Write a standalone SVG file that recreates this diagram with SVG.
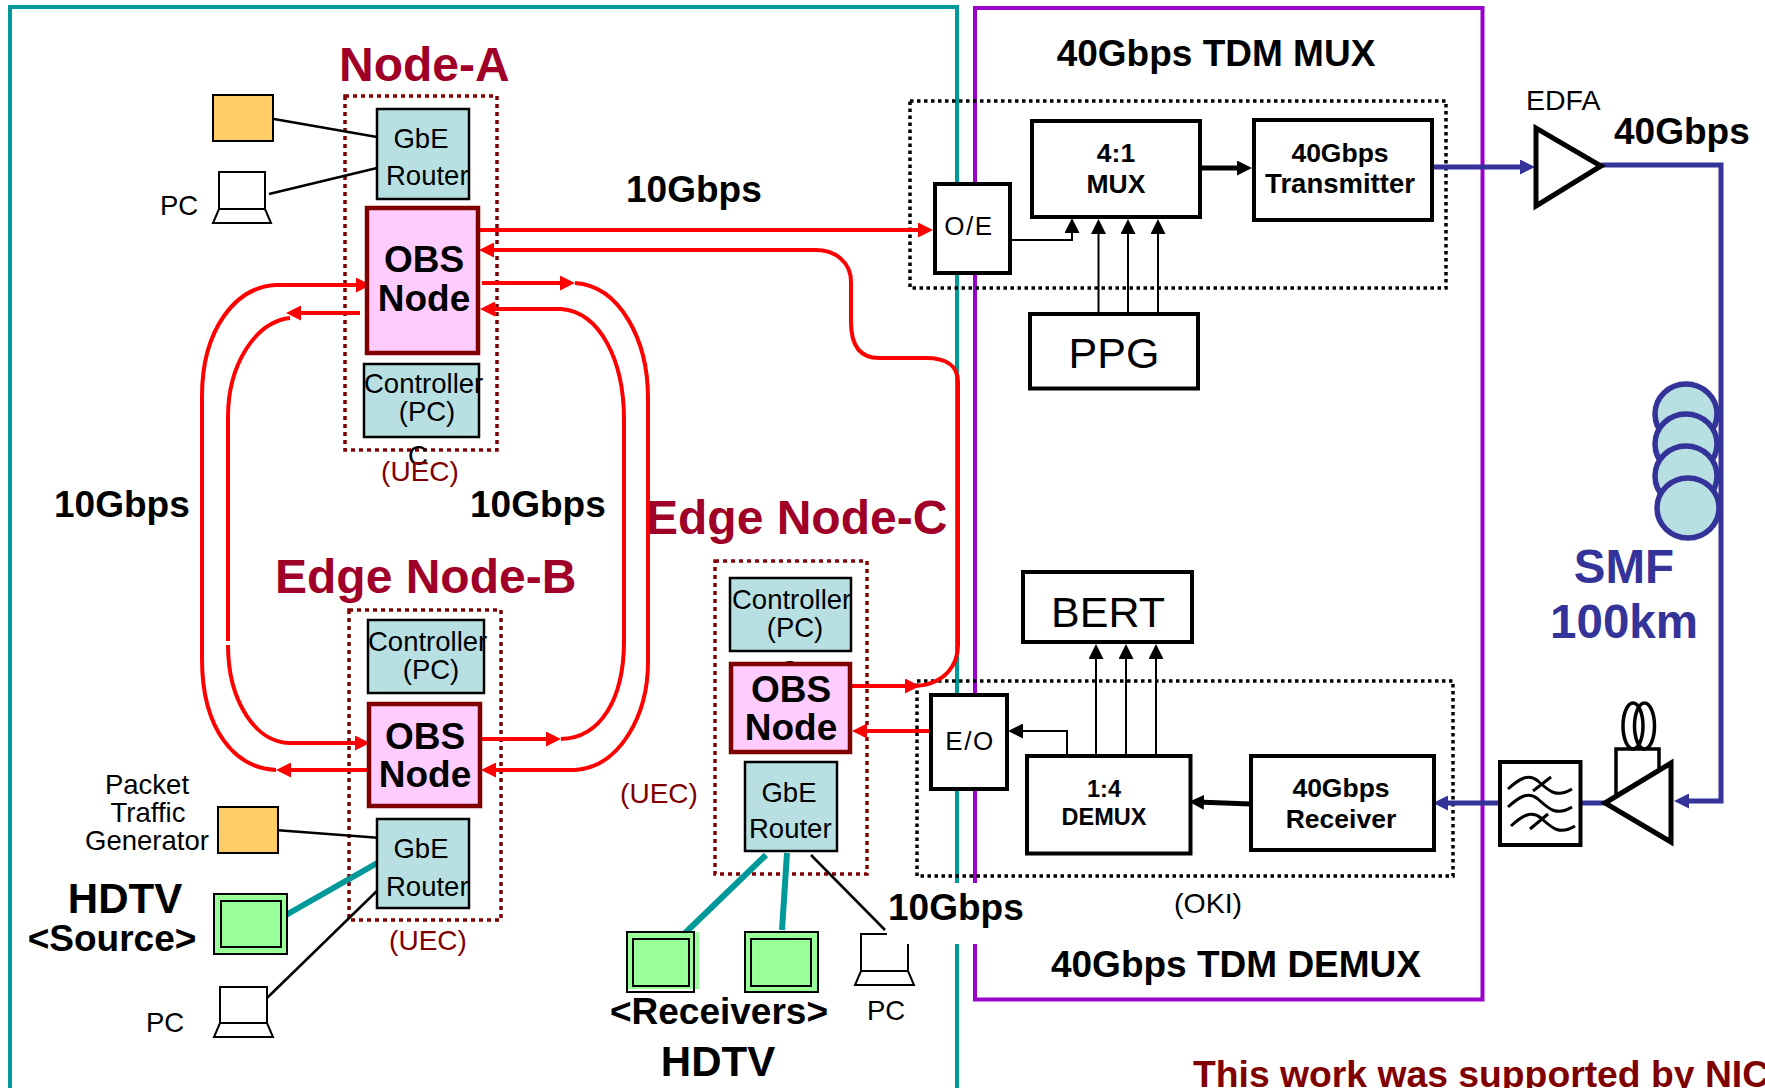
<svg xmlns="http://www.w3.org/2000/svg" width="1765" height="1088" viewBox="0 0 1765 1088">
<style>
text{font-family:"Liberation Sans",Arial,sans-serif;fill:#000}
.m{text-anchor:middle}
.b{font-weight:bold}
.s{font-size:27.500px}
.h{font-size:37px;font-weight:bold}
.t{font-size:48px;font-weight:bold;fill:#a00028}
.o{font-size:37px;font-weight:bold;text-anchor:middle}
.u{font-size:28px;fill:#800000}
.sm{font-size:26.500px;font-weight:bold;text-anchor:middle}
.blu{font-size:47.500px;font-weight:bold;fill:#333399;text-anchor:middle}
.teal{fill:#b8e0e2;stroke:#000;stroke-width:2.500}
.obs{fill:#ffccff;stroke:#7f0000;stroke-width:4.500}
.box{fill:#fff;stroke:#000;stroke-width:4}
.org{fill:#ffcc66;stroke:#000;stroke-width:2}
.grn{fill:#99ff99;stroke:#000;stroke-width:2}
.lap{fill:#fff;stroke:#000;stroke-width:2}
.dr{fill:none;stroke:#7f0000;stroke-width:3.500;stroke-dasharray:4 4}
.dk{fill:none;stroke:#000;stroke-width:3.500;stroke-dasharray:3.500 3.500}
.fr{fill:none;stroke-width:4}
.re{fill:none;stroke:#f00;stroke-width:4}
.bl{fill:none;stroke:#333399;stroke-width:5}
.k1{fill:none;stroke:#000;stroke-width:2}
.k2{fill:none;stroke:#000;stroke-width:2.500}
.k5{fill:none;stroke:#000;stroke-width:5}
.tl{fill:none;stroke:#009999;stroke-width:6}
</style>
<defs>
<marker id="ar" markerUnits="userSpaceOnUse" markerWidth="15" markerHeight="15" viewBox="0 0 15 15" refX="7" refY="7.500" orient="auto"><path d="M0 0L15 7.500L0 15Z" fill="#f00"/></marker>
<marker id="ak" markerUnits="userSpaceOnUse" markerWidth="15" markerHeight="15" viewBox="0 0 15 15" refX="7" refY="7.500" orient="auto"><path d="M0 0L15 7.500L0 15Z" fill="#000"/></marker>
<marker id="ab" markerUnits="userSpaceOnUse" markerWidth="15" markerHeight="15" viewBox="0 0 15 15" refX="7" refY="7.500" orient="auto"><path d="M0 0L15 7.500L0 15Z" fill="#333399"/></marker>
</defs>

<g id="frames">
<path class="fr" stroke="#009999" d="M10 1088V7H957V1088"/>
<path class="fr" stroke="#9900cc" d="M975 8H1482.500V999.500H975Z"/>
<rect class="dr" x="345" y="96" width="152" height="354"/>
<rect class="dr" x="349" y="610" width="152" height="310"/>
<rect class="dr" x="715" y="561" width="152" height="313"/>
<rect class="dk" x="910" y="101" width="536" height="187"/>
<rect class="dk" x="917" y="681" width="536" height="195"/>
</g>

<g id="connectors">
<path class="re" marker-end="url(#ar)" d="M479 230H925"/>
<path class="re" marker-end="url(#ar)" d="M851 686H912"/>
<path class="re" marker-end="url(#ar)" d="M916 686C945 684 958 665 958 645V382C958 365 945 358 926 358H879C860 358 851 345 851 322V282C851 262 835 250 816 250H487"/>
<path class="re" marker-end="url(#ar)" d="M930 731H860"/>
<path class="re" marker-end="url(#ar)" d="M369 770H284"/>
<path class="re" marker-end="url(#ar)" d="M276 770C235 768 202 730 202 659V396C202 330 235 287 276 285H363"/>
<path class="re" marker-end="url(#ar)" d="M360 313H294"/>
<path class="re" d="M290 318C255 322 228 365 228 417V641"/>
<path class="re" marker-end="url(#ar)" d="M228 645C228 700 255 743 290 743H362"/>
<path class="re" marker-end="url(#ar)" d="M482 283H567"/>
<path class="re" marker-end="url(#ar)" d="M575 283C620 286 648 340 648 398V662C648 715 620 767 575 770H489"/>
<path class="re" marker-end="url(#ar)" d="M561 739C600 738 624 700 624 641V420C624 360 600 312 561 309H488"/>
<path class="re" marker-end="url(#ar)" d="M481 739H553"/>
<path class="bl" marker-end="url(#ab)" d="M1428 167H1527"/>
<path class="bl" marker-end="url(#ab)" d="M1601 165H1721V801H1682"/>
<path class="bl" marker-end="url(#ab)" d="M1499 803H1441"/>
<path class="bl" d="M1580 803H1609"/>
<path class="k5" marker-end="url(#ak)" d="M1200 168H1244"/>
<path class="k5" marker-end="url(#ak)" d="M1251 804L1197 802"/>
<path class="k1" marker-end="url(#ak)" d="M1011 240H1072V226"/>
<path class="k1" marker-end="url(#ak)" d="M1098.500 314V227"/>
<path class="k1" marker-end="url(#ak)" d="M1128 314V227"/>
<path class="k1" marker-end="url(#ak)" d="M1158 314V227"/>
<path class="k1" marker-end="url(#ak)" d="M1096 755V652"/>
<path class="k1" marker-end="url(#ak)" d="M1126 755V652"/>
<path class="k1" marker-end="url(#ak)" d="M1156 755V652"/>
<path class="k1" marker-end="url(#ak)" d="M1067 755V731H1016"/>
<path class="k2" d="M274 119L377 137"/>
<path class="k2" d="M269 194L377 168"/>
<path class="k2" d="M275 830L381 838"/>
<path class="k2" d="M381 887L267 998"/>
<path class="k2" d="M811 855L885 930"/>
<path class="tl" d="M286 915L379 862"/>
<path class="tl" d="M766 855L683 935"/>
<path class="tl" d="M787 853L782 930"/>
</g>

<g id="node-a">
<text class="t" x="339" y="81">Node-A</text>
<text class="s" x="408" y="465">C</text>
<rect class="teal" x="377" y="109" width="92" height="90"/>
<text class="s m" x="421" y="148">GbE</text>
<text class="s" x="386" y="185">Router</text>
<rect class="obs" x="367" y="208" width="111" height="145"/>
<text class="o" x="424" y="272">OBS</text>
<text class="o" x="424" y="311">Node</text>
<rect class="teal" x="364" y="364" width="115" height="73"/>
<text class="s" x="364" y="393">Controller</text>
<text class="s m" x="427" y="421">(PC)</text>
<text class="u m" x="420" y="481">(UEC)</text>
</g>
<g id="traffic-a"><rect class="org" x="213" y="95" width="60" height="46"/></g>
<g id="pc-a">
<text class="s" x="160" y="215">PC</text>
<path class="lap" d="M219 209V172H265V209ZM219 209H265L271 223H213Z"/>
</g>

<g id="node-b">
<text class="t" x="275" y="593">Edge Node-B</text>
<text class="s" x="414" y="722">C</text>
<rect class="teal" x="368" y="620" width="116" height="73"/>
<text class="s" x="368" y="651">Controller</text>
<text class="s m" x="431" y="679">(PC)</text>
<rect class="obs" x="369" y="704" width="111" height="102"/>
<text class="o" x="425" y="749">OBS</text>
<text class="o" x="425" y="787">Node</text>
<rect class="teal" x="377" y="819" width="92" height="89"/>
<text class="s m" x="421" y="858">GbE</text>
<text class="s" x="386" y="896">Router</text>
<text class="u m" x="428" y="950">(UEC)</text>
</g>
<g id="traffic-b">
<rect class="org" x="218" y="807" width="60" height="46"/>
<text class="s m" x="147" y="794">Packet</text>
<text class="s m" x="148" y="822">Traffic</text>
<text class="s m" x="147" y="850">Generator</text>
</g>
<g id="hdtv-source">
<rect class="grn" x="214" y="894" width="73" height="60"/>
<rect class="grn" x="221" y="901" width="60" height="46"/>
<text class="b m" x="125" y="913" font-size="42">HDTV</text>
<text class="h m" x="112" y="951">&lt;Source&gt;</text>
</g>
<g id="pc-b">
<text class="s" x="146" y="1032">PC</text>
<path class="lap" d="M220 1023V987H267V1023ZM220 1023H267L273 1037H214Z"/>
</g>

<g id="node-c">
<text class="t" x="646" y="534">Edge Node-C</text>
<text class="s" x="779" y="680">C</text>
<rect class="teal" x="730" y="578" width="121" height="73"/>
<text class="s" x="732" y="609">Controller</text>
<text class="s m" x="795" y="637">(PC)</text>
<rect class="obs" x="731" y="664" width="119" height="88"/>
<text class="o" x="791" y="702">OBS</text>
<text class="o" x="791" y="740">Node</text>
<rect class="teal" x="745" y="762" width="92" height="89"/>
<text class="s m" x="789" y="802">GbE</text>
<text class="s" x="749" y="838">Router</text>
<text class="u m" x="659" y="803">(UEC)</text>
</g>
<g id="receiver-1">
<rect x="627" y="932" width="72" height="57" fill="#99ff99"/>
<rect x="627" y="932" width="67" height="60" fill="none" stroke="#000" stroke-width="2"/>
<rect class="grn" x="633" y="939" width="56" height="47"/>
</g>
<g id="receiver-2">
<rect class="grn" x="745" y="932" width="73" height="60"/>
<rect class="grn" x="751" y="939" width="60" height="47"/>
</g>
<g id="hdtv-receivers">
<text class="h m" x="719" y="1024">&lt;Receivers&gt;</text>
<text class="b m" x="718" y="1076" font-size="42">HDTV</text>
</g>
<g id="pc-c">
<path class="lap" d="M861 971V934H908V971ZM861 971H908L914 985H855Z"/>
<text class="s m" x="886" y="1020">PC</text>
</g>
<g id="label-10g-c">
<rect x="887" y="883" width="136" height="61" fill="#fff"/>
<text class="h" x="888" y="920">10Gbps</text>
</g>

<g id="labels-10g">
<text class="h" x="626" y="202">10Gbps</text>
<text class="h" x="54" y="517">10Gbps</text>
<text class="h" x="470" y="517">10Gbps</text>
</g>

<g id="oe"><rect class="box" x="935" y="184" width="75" height="89"/><text class="m" x="969" y="235" font-size="26" letter-spacing="1.500">O/E</text></g>
<g id="mux"><rect class="box" x="1032" y="121" width="168" height="96"/><text class="sm" x="1116" y="162">4:1</text><text class="sm" x="1116" y="193">MUX</text></g>
<g id="transmitter"><rect class="box" x="1254" y="120" width="178" height="100"/><text class="sm" x="1340" y="162">40Gbps</text><text class="b m" x="1340" y="193" font-size="27.500">Transmitter</text></g>
<g id="ppg"><rect class="box" x="1030" y="314" width="168" height="74.500"/><text class="m" x="1114" y="368" font-size="43">PPG</text></g>
<g id="mux-title"><text class="h m" x="1216" y="66">40Gbps TDM MUX</text></g>

<g id="edfa-tx">
<text x="1526" y="110" font-size="28.500">EDFA</text>
<path d="M1536 128V206L1601 166Z" fill="#fff" stroke="#000" stroke-width="5"/>
<text class="h" x="1614" y="144">40Gbps</text>
</g>
<g id="smf">
<ellipse cx="1686" cy="414" rx="31" ry="30" fill="#b8e0e2" stroke="#333399" stroke-width="5.500"/>
<ellipse cx="1686" cy="444" rx="31" ry="30" fill="#b8e0e2" stroke="#333399" stroke-width="5.500"/>
<ellipse cx="1686" cy="476" rx="31" ry="30" fill="#b8e0e2" stroke="#333399" stroke-width="5.500"/>
<ellipse cx="1688" cy="508" rx="31" ry="30" fill="#b8e0e2" stroke="#333399" stroke-width="5.500"/>
<text class="blu" x="1624" y="583">SMF</text>
<text class="blu" x="1624" y="638">100km</text>
</g>
<g id="edfa-rx">
<ellipse cx="1633" cy="726" rx="10" ry="23" fill="none" stroke="#000" stroke-width="3.500"/>
<ellipse cx="1644.500" cy="726" rx="10" ry="23" fill="none" stroke="#000" stroke-width="3.500"/>
<path d="M1616 797V749H1659V776" fill="none" stroke="#000" stroke-width="3.500"/>
<path d="M1605 803L1671 763V842Z" fill="#fff" stroke="#000" stroke-width="5"/>
</g>
<g id="filter">
<rect class="box" x="1500" y="762" width="80.500" height="83"/>
<path d="M1508 789C1519 779 1528 773 1538 781C1548 790 1556 799 1572 789M1508 807C1519 797 1528 791 1538 799C1548 808 1556 817 1572 807M1511 826C1522 816 1531 810 1541 818C1551 827 1559 836 1575 826M1533 791L1551 777M1530 829L1548 814" fill="none" stroke="#000" stroke-width="3"/>
</g>
<g id="receiver"><rect class="box" x="1251" y="756" width="183" height="94"/><text class="sm" x="1341" y="797">40Gbps</text><text class="sm" x="1341" y="828">Receiver</text></g>
<g id="demux"><rect class="box" x="1027" y="756" width="163.500" height="97.500"/><text class="b m" x="1104" y="797" font-size="23.500">1:4</text><text class="b m" x="1104" y="825" font-size="23.500">DEMUX</text></g>
<g id="eo"><rect class="box" x="931" y="695" width="76" height="94"/><text class="m" x="970" y="750" font-size="26" letter-spacing="1.500">E/O</text></g>
<g id="bert"><rect class="box" x="1023" y="572" width="169" height="70"/><text class="m" x="1108" y="627" font-size="43">BERT</text></g>
<g id="demux-labels">
<text x="1174" y="913" font-size="28.500">(OKI)</text>
<text class="h m" x="1236" y="977">40Gbps TDM DEMUX</text>
</g>
<text class="b" x="1193" y="1087" font-size="37.300" style="fill:#800000">This work was supported by NIC</text>
</svg>
